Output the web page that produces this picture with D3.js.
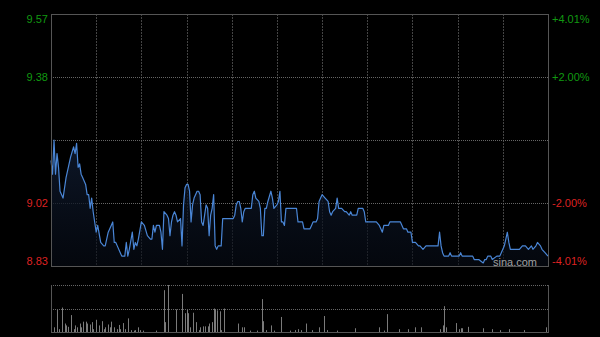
<!DOCTYPE html>
<html lang="en">
    <head>
        <meta charset="utf-8">
        <title>Intraday chart</title>
        <script type="text/javascript" src="https://cdn.jsdelivr.net/npm/d3@7/dist/d3.min.js"></script>
        <style type="text/css">
            body { margin: 0; background: #000; }
            svg { display: block; }
            text { font-family: "Liberation Sans", Arial, sans-serif; font-size: 11px; }
        </style>
    </head>
    <body>
        <script type="text/javascript">
            var w = 600;
            var h = 337;

            //Data: minute index (0..330) and price
            var prevClose = 9.20;
            var pctTicks = [0.0401, 0.02, 0, -0.02, -0.0401];
            var priceLabels = ["9.57", "9.38", "", "9.02", "8.83"];
            var pctLabels = ["+4.01%", "+2.00%", "", "-2.00%", "-4.01%"];

            var minutes = [0, 1, 2, 3, 4, 5, 6, 8, 10, 13, 15, 16, 17, 18, 19, 20, 21, 23, 24, 25,
                26, 27, 28, 29, 30, 31, 33, 35, 36, 38, 40, 41, 42, 43, 44, 46, 47, 49, 50, 51,
                52, 54, 55, 56, 57, 58, 60, 62, 64, 66, 67, 68, 69, 70, 72, 73, 74, 75, 77, 78,
                79, 80, 81, 82, 83, 84, 86, 87, 88, 89, 90, 91, 92, 93, 94, 95, 97, 98, 99, 100,
                101, 102, 103, 104, 105, 106, 107, 108, 109, 110, 111, 113, 114, 121, 122, 123, 124, 125, 126, 127,
                128, 129, 132, 133, 134, 135, 136, 138, 139, 140, 141, 142, 143, 144, 146, 147, 148, 150, 151, 152,
                153, 154, 155, 156, 163, 164, 167, 168, 172, 173, 174, 176, 177, 178, 179, 180, 182, 184, 185, 186,
                187, 189, 190, 191, 193, 195, 196, 198, 199, 200, 203, 204, 207, 208, 209, 216, 218, 219, 220, 221,
                224, 225, 232, 234, 236, 237, 239, 240, 242, 244, 245, 247, 249, 257, 258, 259, 260, 261, 264, 265,
                266, 271, 272, 273, 280, 281, 282, 284, 287, 288, 289, 290, 292, 293, 296, 298, 300, 301, 302, 303,
                304, 305, 306, 307, 311, 313, 315, 317, 319, 320, 322, 323, 325, 326, 328, 330];
            var prices = [9.14, 9.10, 9.20, 9.10, 9.16, 9.12, 9.05, 9.03, 9.09, 9.15, 9.18, 9.16, 9.19, 9.12, 9.13, 9.10, 9.09, 9.07, 9.04, 9.04,
                9.00, 9.03, 8.99, 8.96, 8.93, 8.95, 8.90, 8.89, 8.89, 8.93, 8.95, 8.96, 8.90, 8.90, 8.89, 8.87, 8.86, 8.86, 8.90, 8.86,
                8.88, 8.93, 8.88, 8.90, 8.89, 8.91, 8.96, 8.95, 8.92, 8.91, 8.91, 8.95, 8.93, 8.95, 8.95, 8.93, 8.88, 8.99, 8.98, 8.97,
                8.92, 8.96, 8.98, 8.99, 8.98, 8.96, 8.97, 8.89, 9.01, 9.06, 9.07, 9.07, 9.05, 8.96, 9.01, 9.03, 9.05, 9.05, 9.04, 8.96,
                8.95, 8.98, 9.01, 9.00, 8.92, 8.98, 9.00, 9.04, 8.89, 8.88, 8.89, 8.89, 8.97, 8.97, 8.98, 9.01, 9.02, 9.02, 9.00, 8.96,
                8.99, 9.00, 9.00, 9.00, 9.04, 9.05, 9.03, 9.02, 9.00, 8.92, 8.92, 9.00, 9.00, 9.02, 9.05, 9.03, 9.00, 9.01, 9.02, 9.05,
                8.96, 8.96, 8.95, 9.00, 9.00, 8.96, 8.96, 8.94, 8.94, 8.95, 8.96, 8.96, 8.97, 9.02, 9.03, 9.04, 9.03, 9.02, 8.99, 8.98,
                8.99, 9.00, 9.03, 9.00, 9.00, 8.99, 8.99, 8.98, 8.99, 8.98, 8.98, 9.00, 9.00, 8.99, 8.96, 8.96, 8.95, 8.94, 8.93, 8.95,
                8.95, 8.96, 8.96, 8.94, 8.94, 8.93, 8.93, 8.90, 8.90, 8.89, 8.89, 8.88, 8.89, 8.89, 8.93, 8.89, 8.87, 8.86, 8.86, 8.87,
                8.86, 8.86, 8.87, 8.86, 8.86, 8.85, 8.85, 8.85, 8.84, 8.85, 8.85, 8.86, 8.86, 8.85, 8.86, 8.86, 8.88, 8.89, 8.91, 8.93,
                8.90, 8.88, 8.88, 8.88, 8.88, 8.89, 8.89, 8.88, 8.89, 8.88, 8.89, 8.90, 8.89, 8.88, 8.87, 8.86];

            //Volume, in percent of the panel maximum
            var volMinutes = [0, 2, 4, 5, 7, 9, 10, 11, 13, 15, 16, 17, 19, 20, 21, 23, 24, 26, 27, 28,
                30, 32, 34, 35, 36, 38, 39, 40, 42, 44, 45, 46, 48, 49, 51, 53, 55, 56, 58, 59,
                61, 70, 75, 76, 78, 83, 87, 89, 90, 91, 92, 94, 96, 98, 99, 101, 102, 104, 105, 107,
                108, 109, 110, 112, 113, 115, 124, 127, 128, 132, 137, 140, 141, 143, 146, 148, 153, 159, 162, 164,
                166, 169, 173, 178, 181, 183, 190, 202, 218, 221, 223, 231, 237, 242, 246, 258, 260, 261, 262, 269,
                271, 272, 273, 277, 287, 293, 298, 304, 314, 329];
            var volumes = [29, 10, 47, 6, 52, 18, 14, 11, 36, 6, 14, 10, 18, 10, 22, 22, 18, 16, 21, 6,
                26, 14, 23, 6, 10, 16, 10, 22, 10, 6, 15, 6, 19, 6, 29, 4, 3, 4, 10, 4,
                3, 3, 89, 21, 100, 48, 81, 40, 47, 40, 10, 41, 21, 4, 10, 12, 12, 12, 18, 21,
                50, 48, 46, 44, 4, 50, 18, 10, 10, 3, 3, 70, 23, 4, 14, 3, 32, 3, 4, 6,
                4, 18, 4, 10, 34, 4, 3, 8, 10, 3, 38, 6, 6, 10, 10, 6, 14, 55, 10, 19,
                6, 8, 8, 11, 8, 6, 4, 6, 4, 10];

            var padL = 51, padR = 548, padT = 14, padB = 266;
            var vTop = 285, vBottom = 332;

            var xScale = d3.scaleLinear()
                .domain([0, 330])
                .range([padL, padR]);

            var yScale = d3.scaleLinear()
                .domain([prevClose * (1 - 0.0401), prevClose * (1 + 0.0401)])
                .range([padB, padT]);

            var vScale = d3.scaleLinear()
                .domain([0, 100])
                .range([vBottom, vTop]);

            var svg = d3.select("body")
                .append("svg")
                .attr("width", w)
                .attr("height", h);

            svg.append("rect")
                .attr("width", w)
                .attr("height", h)
                .attr("fill", "#000");

            var defs = svg.append("defs");
            var grad = defs.append("linearGradient")
                .attr("id", "fillGrad")
                .attr("x1", 0).attr("y1", 0).attr("x2", 0).attr("y2", 1);
            grad.append("stop").attr("offset", "0%").attr("stop-color", "#0f1a2e").attr("stop-opacity", 0.9);
            grad.append("stop").attr("offset", "100%").attr("stop-color", "#070c16").attr("stop-opacity", 0.6);

            //vertical grid, every 30 minutes
            var vGrid = d3.range(30, 330, 30);
            svg.append("g")
                .selectAll("line")
                .data(vGrid)
                .enter()
                .append("line")
                .attr("x1", function(d) { return Math.round(xScale(d)) + 0.5; })
                .attr("x2", function(d) { return Math.round(xScale(d)) + 0.5; })
                .attr("y1", padT)
                .attr("y2", padB)
                .attr("stroke", "#444")
                .attr("stroke-dasharray", "2,1");

            //horizontal grid
            svg.append("g")
                .selectAll("line")
                .data([0.02, 0, -0.02])
                .enter()
                .append("line")
                .attr("x1", padL)
                .attr("x2", padR)
                .attr("y1", function(d) { return Math.round(yScale(prevClose * (1 + d))) + 0.5; })
                .attr("y2", function(d) { return Math.round(yScale(prevClose * (1 + d))) + 0.5; })
                .attr("stroke", "#666")
                .attr("stroke-dasharray", "1,1");

            var series = minutes.map(function(m, i) { return [m, prices[i]]; });

            var area = d3.area()
                .x(function(d) { return xScale(d[0]); })
                .y0(padB)
                .y1(function(d) { return yScale(d[1]); });

            var line = d3.line()
                .x(function(d) { return xScale(d[0]); })
                .y(function(d) { return yScale(d[1]); });

            svg.append("path")
                .datum(series)
                .attr("d", area)
                .attr("fill", "url(#fillGrad)");

            svg.append("path")
                .datum(series)
                .attr("d", line)
                .attr("fill", "none")
                .attr("stroke", "#4a86d6")
                .attr("stroke-width", 1.2)
                .attr("stroke-linejoin", "round");

            //frame
            svg.append("rect")
                .attr("x", padL + 0.5)
                .attr("y", padT + 0.5)
                .attr("width", padR - padL)
                .attr("height", padB - padT)
                .attr("fill", "none")
                .attr("stroke", "#555");

            //axis labels
            var labels = svg.append("g");
            pctTicks.forEach(function(p, i) {
                if (priceLabels[i] === "") return;
                var y = yScale(prevClose * (1 + p));
                y = Math.max(padT + 5, Math.min(padB - 5, y));
                var col = p > 0 ? "#119911" : "#dd2222";
                labels.append("text")
                    .attr("x", 48)
                    .attr("y", y)
                    .attr("dy", "0.35em")
                    .attr("text-anchor", "end")
                    .attr("fill", col)
                    .text(priceLabels[i]);
                labels.append("text")
                    .attr("x", 552)
                    .attr("y", y)
                    .attr("dy", "0.35em")
                    .attr("text-anchor", "start")
                    .attr("fill", col)
                    .text(pctLabels[i]);
            });

            svg.append("text")
                .attr("x", 537)
                .attr("y", 262)
                .attr("dy", "0.35em")
                .attr("text-anchor", "end")
                .attr("fill", "#a0a0a0")
                .text("sina.com");

            //volume panel
            svg.append("g")
                .selectAll("line")
                .data([vTop, (vTop + vBottom) / 2])
                .enter()
                .append("line")
                .attr("x1", padL)
                .attr("x2", padR)
                .attr("y1", function(d) { return Math.round(d) + 0.5; })
                .attr("y2", function(d) { return Math.round(d) + 0.5; })
                .attr("stroke", "#666")
                .attr("stroke-dasharray", "1,1");

            svg.append("g")
                .selectAll("rect")
                .data(volMinutes)
                .enter()
                .append("rect")
                .attr("x", function(d) { return Math.round(xScale(d)); })
                .attr("y", function(d, i) { return vScale(volumes[i]); })
                .attr("width", 1)
                .attr("height", function(d, i) { return vBottom - vScale(volumes[i]); })
                .attr("fill", "#7a7a7a");

            svg.append("line")
                .attr("x1", padL + 0.5).attr("x2", padL + 0.5)
                .attr("y1", vTop).attr("y2", vBottom)
                .attr("stroke", "#555");
            svg.append("line")
                .attr("x1", padR + 0.5).attr("x2", padR + 0.5)
                .attr("y1", vTop).attr("y2", vBottom)
                .attr("stroke", "#555");
            svg.append("line")
                .attr("x1", padL).attr("x2", padR + 1)
                .attr("y1", vBottom + 0.5).attr("y2", vBottom + 0.5)
                .attr("stroke", "#555");
        </script>
    </body>
</html>
